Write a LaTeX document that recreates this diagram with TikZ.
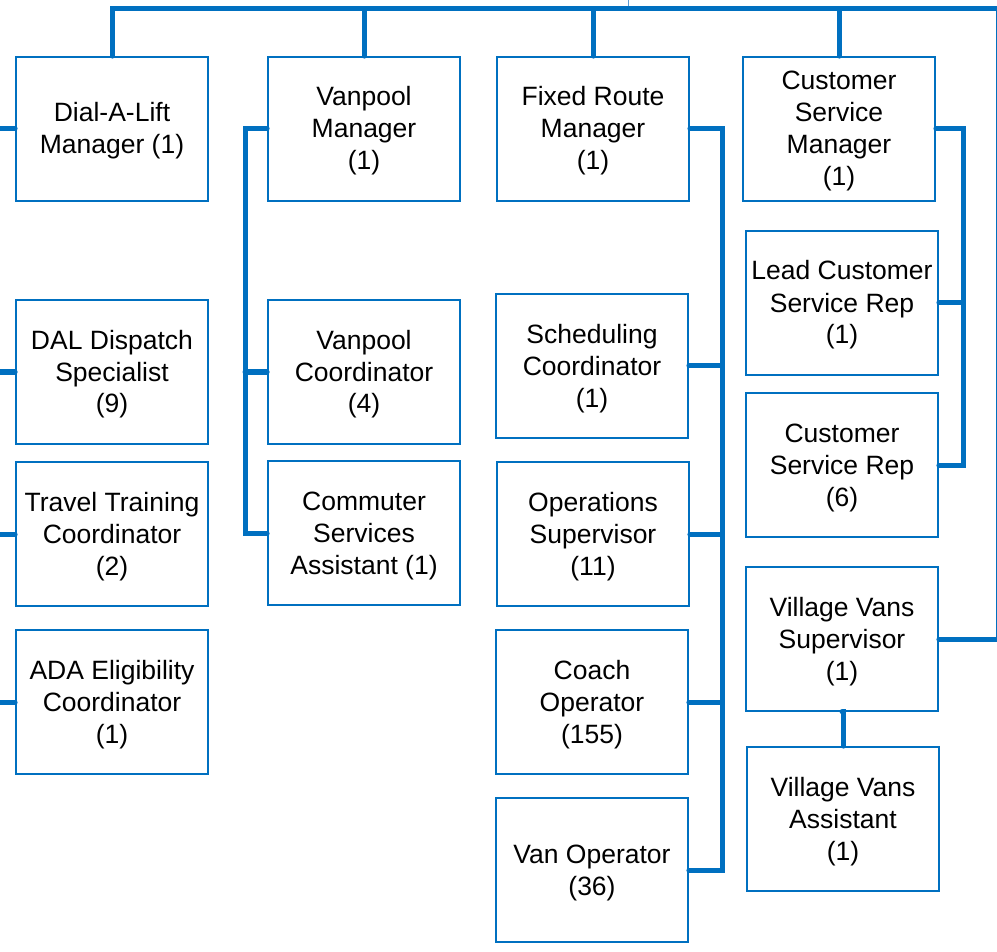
\documentclass[tikz,border=0pt]{standalone}
\usepackage{fontspec}
\setmainfont{Liberation Sans}
\definecolor{orgblue}{HTML}{0070C0}
\definecolor{linkblue}{HTML}{5B9BD5}
% struts that fix the height of the first line and the depth of the last
\newcommand{\hiS}{\rule{0pt}{24pt}}
\newcommand{\loS}{\rule[-6pt]{0pt}{6pt}}
\begin{document}
\begin{tikzpicture}[x=1pt,y=-1pt,
  role/.style={draw=orgblue,line width=1.8pt,fill=white,minimum width=192pt,
    minimum height=144pt,inner sep=0pt,align=center,
    font=\fontsize{26.5}{32}\selectfont},
  conn/.style={draw=orgblue,line width=5pt,line cap=round,line join=miter},
  uplink/.style={draw=linkblue,line width=1pt}]
\useasboundingbox (0,0) rectangle (997,952);

% column 1: Dial-A-Lift
\node[role] (dal) at (112,129) {\hiS Dial-A-Lift\\Manager (1)\loS};
\node[role] (dds) at (112,372) {\hiS DAL Dispatch\\Specialist\\(9)\loS};
\node[role] (ttc) at (112,534) {\hiS Travel Training\\Coordinator\\(2)\loS};
\node[role] (ada) at (112,702) {\hiS ADA Eligibility\\Coordinator\\(1)\loS};

% column 2: Vanpool
\node[role] (vpm) at (364,129) {\hiS Vanpool\\Manager\\(1)\loS};
\node[role] (vpc) at (364,372) {\hiS Vanpool\\Coordinator\\(4)\loS};
\node[role] (csa) at (364,533) {\hiS Commuter\\Services\\Assistant (1)\loS};

% column 3: Fixed Route
\node[role] (frm) at (593,129) {\hiS Fixed Route\\Manager\\(1)\loS};
\node[role] (sch) at (592,366) {\hiS Scheduling\\Coordinator\\(1)\loS};
\node[role] (ops) at (593,534) {\hiS Operations\\Supervisor\\(11)\loS};
\node[role] (coa) at (592,702) {\hiS Coach\\Operator\\(155)\loS};
\node[role] (van) at (592,870) {\hiS Van Operator\\(36)\loS};

% column 4: Customer Service and Village Vans
\node[role] (csm) at (839,129) {\hiS Customer\\Service\\Manager\\(1)\loS};
\node[role] (lcs) at (842,303) {\hiS Lead Customer\\Service Rep\\(1)\loS};
\node[role] (csr) at (842,465) {\hiS Customer\\Service Rep\\(6)\loS};
\node[role] (vvs) at (842,639) {\hiS Village Vans\\Supervisor\\(1)\loS};
\node[role] (vva) at (843,819) {\hiS Village Vans\\Assistant\\(1)\loS};

% routing coordinates
\coordinate (topR) at (998.5,9);
\coordinate (leftEdge) at (-4,0);
\coordinate (vpSpine) at (245,0);
\coordinate (frSpine) at (722,0);
\coordinate (csSpine) at (963,0);
\coordinate (parentTop) at (628,-2);
\coordinate (parentBus) at (628,9);

% link from the parent level
\draw[uplink] (parentTop) -- (parentBus);

% top bus and drops to the managers
\draw[conn] (dal.north) |- (topR) |- (vvs.east);
\draw[conn] (vpm.north) -- (vpm.north |- topR);
\draw[conn] (frm.north) -- (frm.north |- topR);
\draw[conn] (csm.north) -- (csm.north |- topR);

% Dial-A-Lift staff, fed from the left edge
\draw[conn] (dal.west) -- (dal.west -| leftEdge);
\draw[conn] (dds.west) -- (dds.west -| leftEdge);
\draw[conn] (ttc.west) -- (ttc.west -| leftEdge);
\draw[conn] (ada.west) -- (ada.west -| leftEdge);

% Vanpool staff
\draw[conn] (vpm.west) -| (csa.west -| vpSpine) -- (csa.west);
\draw[conn] (vpc.west) -- (vpc.west -| vpSpine);

% Fixed Route staff
\draw[conn] (frm.east) -| (van.east -| frSpine) -- (van.east);
\draw[conn] (sch.east) -- (sch.east -| frSpine);
\draw[conn] (ops.east) -- (ops.east -| frSpine);
\draw[conn] (coa.east) -- (coa.east -| frSpine);

% Customer Service staff
\draw[conn] (csm.east) -| (csr.east -| csSpine) -- (csr.east);
\draw[conn] (lcs.east) -- (lcs.east -| csSpine);

% Village Vans
\draw[conn] (vvs.south) -- (vvs.south -| vva.north) -- (vva.north);
\end{tikzpicture}
\end{document}
